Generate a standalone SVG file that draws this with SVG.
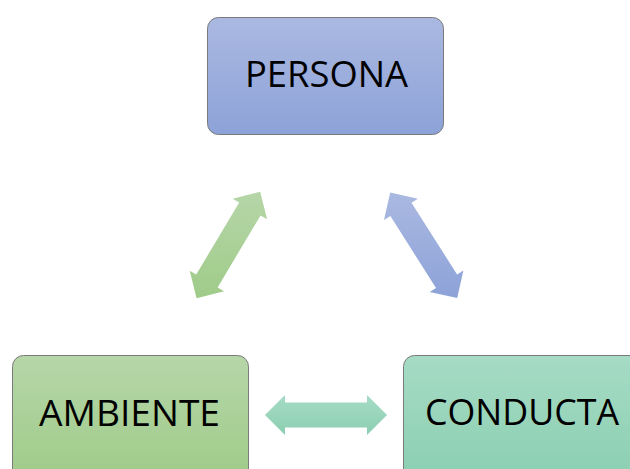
<svg xmlns="http://www.w3.org/2000/svg" width="630" height="469" viewBox="0 0 630 469">
<defs>
<linearGradient id="gBlue" x1="0" y1="0" x2="0" y2="1"><stop offset="0" stop-color="#aab9e1"/><stop offset="1" stop-color="#8da2d8"/></linearGradient>
<linearGradient id="gGreen" x1="0" y1="0" x2="0" y2="1"><stop offset="0" stop-color="#b6d6a8"/><stop offset="1" stop-color="#9fcb89"/></linearGradient>
<linearGradient id="gTeal" x1="0" y1="0" x2="0" y2="1"><stop offset="0" stop-color="#a6dbc5"/><stop offset="1" stop-color="#8bcfb1"/></linearGradient>
</defs>
<style>
.box{stroke:#7a7a7a;stroke-width:1}
.lbl{font-family:"Open Sans","Liberation Sans",sans-serif;font-size:36px;fill:#000;text-anchor:start}
</style>
<g id="persona">
<rect class="box" x="207.5" y="17.5" width="236" height="117" rx="11" fill="url(#gBlue)"/>
<text class="lbl" x="245" y="87" textLength="163" lengthAdjust="spacingAndGlyphs">PERSONA</text>
</g>
<g id="ambiente">
<rect class="box" x="12.5" y="355.5" width="236" height="125" rx="11" fill="url(#gGreen)"/>
<text class="lbl" x="39" y="426" textLength="181" lengthAdjust="spacingAndGlyphs">AMBIENTE</text>
</g>
<g id="conducta">
<rect class="box" x="403.5" y="355.5" width="240" height="125" rx="11" fill="url(#gTeal)"/>
<text class="lbl" x="425" y="425" textLength="194" lengthAdjust="spacingAndGlyphs">CONDUCTA</text>
</g>
<g id="connectors">
<polygon fill="url(#gGreen)" points="260.2,191.8 267.1,219.3 260.6,215.4 217.6,287.4 224.1,291.3 196.6,298.2 189.7,270.7 196.2,274.6 239.2,202.6 232.7,198.7"/>
<polygon fill="url(#gBlue)" points="390.2,192.6 417.8,198.7 411.5,202.7 457.1,274.5 463.4,270.5 457.2,298.1 429.6,291.9 436,287.9 390.4,216.1 384,220.1"/>
<polygon fill="url(#gTeal)" points="265,415 285,395 285,402.5 367,402.5 367,395 387,415 367,435 367,427.5 285,427.5 285,435"/>
</g>
</svg>
